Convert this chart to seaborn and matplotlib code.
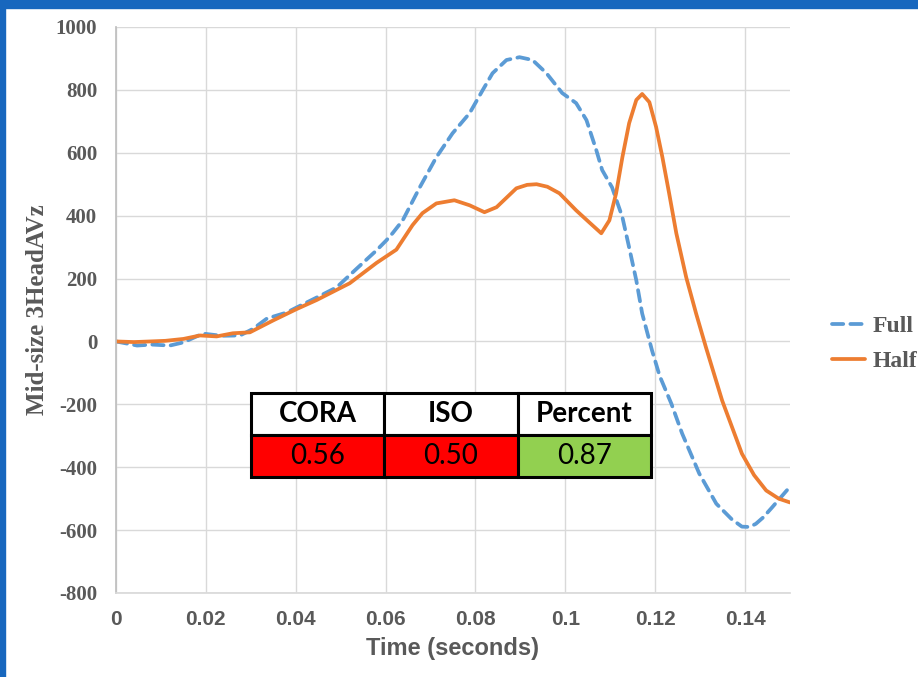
import numpy as np
import pandas as pd
import matplotlib
matplotlib.use("Agg")
import matplotlib.pyplot as plt
import seaborn as sns
from matplotlib.patches import Rectangle
from matplotlib.lines import Line2D

# ---- data ----
full_t = [0, 0.0047, 0.008, 0.012, 0.015, 0.0193, 0.0235, 0.0276, 0.0305, 0.0336, 0.038,
          0.0402, 0.0447, 0.0491, 0.0536, 0.058, 0.0602, 0.0616, 0.0638, 0.0676, 0.0713,
          0.0749, 0.0787, 0.0816, 0.0838, 0.0869, 0.0898, 0.0927, 0.0958, 0.0993, 0.1024,
          0.1047, 0.1069, 0.1082, 0.1104, 0.1127, 0.1142, 0.1158, 0.1171, 0.1193, 0.121,
          0.1236, 0.126, 0.1298, 0.1336, 0.137, 0.1393, 0.141, 0.1424, 0.144, 0.146,
          0.148, 0.15]
full_v = [0, -13, -10, -13, -3, 25, 18, 19, 40, 73, 92, 108, 140, 172, 232, 290, 322, 345,
          385, 490, 586, 662, 726, 799, 853, 895, 904, 895, 853, 790, 758, 704, 608, 545,
          490, 395, 299, 194, 89, -29, -110, -198, -293, -420, -516, -565, -589, -590,
          -580, -560, -528, -495, -462]

half_t = [0, 0.004, 0.0076, 0.011, 0.015, 0.0187, 0.0224, 0.026, 0.0298, 0.035, 0.0402,
          0.0447, 0.052, 0.058, 0.0624, 0.066, 0.0682, 0.0713, 0.0753, 0.0787, 0.082,
          0.0847, 0.0891, 0.0915, 0.0936, 0.096, 0.0987, 0.1024, 0.1053, 0.108, 0.1098,
          0.1113, 0.1127, 0.1142, 0.1158, 0.1171, 0.1187, 0.1202, 0.1216, 0.1231, 0.1247,
          0.1269, 0.1291, 0.1313, 0.1349, 0.1393, 0.142, 0.1447, 0.1475, 0.15]
half_v = [0, -2, 0, 2, 8, 19, 16, 26, 29, 67, 103, 132, 185, 250, 292, 370, 408, 439, 449,
          433, 411, 427, 487, 498, 500, 492, 471, 417, 379, 344, 385, 471, 586, 694, 768,
          787, 761, 682, 586, 471, 344, 204, 89, -19, -188, -357, -425, -474, -500, -512]

series_names = ["Full", "Half"]
x_tick_labels = ["0", "0.02", "0.04", "0.06", "0.08", "0.1", "0.12", "0.14"]

table_cols = ["CORA", "ISO", "Percent"]
table_vals = ["0.56", "0.50", "0.87"]
table_colors = ["#FF0000", "#FF0000", "#92D050"]

df = pd.concat([
    pd.DataFrame({"t": full_t, "v": full_v, "s": series_names[0]}),
    pd.DataFrame({"t": half_t, "v": half_v, "s": series_names[1]}),
], ignore_index=True)

sns.set_theme(style="white")
plt.rcParams["font.family"] = ["DejaVu Sans"]
plt.rcParams["axes.unicode_minus"] = False

BLUE = "#5B9BD5"
ORANGE = "#ED7D31"
LW = 2.7
DASH = (3.0, 1.9)

fig = plt.figure(figsize=(9.18, 6.77), dpi=100)
ax = fig.add_axes([116/918, 1-593/677, 674/918, 566/677])

sns.lineplot(data=df, x="t", y="v", hue="s", style="s",
             palette={"Full": BLUE, "Half": ORANGE},
             dashes={"Full": DASH, "Half": ""},
             linewidth=LW, estimator=None, sort=True, ax=ax, legend=False)
for ln in ax.lines:
    ln.set_solid_capstyle("round")
    ln.set_dash_capstyle("round")
    ln.set_solid_joinstyle("round")
    ln.set_dash_joinstyle("round")

ax.set_xlim(0, 0.15)
ax.set_ylim(-800, 1000)
ax.set_xticks(np.arange(0, 0.141, 0.02))
ax.set_xticklabels(x_tick_labels)
ax.set_yticks(np.arange(-800, 1001, 200))
ax.grid(True, color="#D9D9D9", linewidth=1.0)
ax.set_axisbelow(True)
for s in ["top", "right"]:
    ax.spines[s].set_visible(False)
ax.spines["left"].set_color("#BFBFBF")
ax.spines["bottom"].set_color("#D9D9D9")
ax.tick_params(length=0)

xfam = ["Liberation Sans Narrow", "Liberation Sans"]
yfam = ["Liberation Serif"]
for lab in ax.get_xticklabels():
    lab.set_fontfamily(xfam); lab.set_fontweight("bold"); lab.set_fontsize(15)
    lab.set_color("#595959")
for lab in ax.get_yticklabels():
    lab.set_fontfamily(yfam); lab.set_fontweight("bold"); lab.set_fontsize(15)
    lab.set_color("#595959")
ax.tick_params(axis="x", pad=12)
ax.tick_params(axis="y", pad=13.5)

ax.set_xlabel("Time (seconds)", fontfamily=xfam, fontweight="bold",
              fontsize=17, color="#595959", labelpad=6)
ax.set_ylabel("Mid-size 3HeadAVz", fontfamily=yfam, fontweight="bold",
              fontsize=18, color="#595959", labelpad=5)

# legend
handles = [Line2D([], [], color=BLUE, lw=LW, dashes=DASH, dash_capstyle="round"),
           Line2D([], [], color=ORANGE, lw=LW)]
fig.legend(handles, series_names, loc="center left", bbox_to_anchor=(832/918, 0.4926),
           frameon=False, borderpad=0, borderaxespad=0,
           handlelength=1.4, handletextpad=0.3, labelspacing=0.57,
           prop=dict(family="Liberation Serif", weight="bold", size=17),
           labelcolor="#595959")

# table
tab = ax.table(cellText=[table_cols, table_vals],
               cellColours=[["white"] * 3, table_colors],
               cellLoc="center", bbox=[135/674, 116/566, 400/674, 84/566])
tab.auto_set_font_size(False)
for (r, c), cell in tab.get_celld().items():
    cell.set_edgecolor("black")
    cell.set_linewidth(2.2)
    txt = cell.get_text()
    txt.set_fontfamily(["Lato", "DejaVu Sans"])
    txt.set_fontsize(20)
    txt.set_fontweight("bold" if r == 0 else "normal")
    txt.set_color("black")
tab.set_zorder(5)

# blue frame
fig.patches.append(Rectangle((0, 1 - 8/677), 1, 8/677, transform=fig.transFigure,
                             color="#1767BE", zorder=10))
fig.patches.append(Rectangle((0, 0), 5/918, 1, transform=fig.transFigure,
                             color="#1767BE", zorder=10))

fig.savefig("out.png", dpi=100)
